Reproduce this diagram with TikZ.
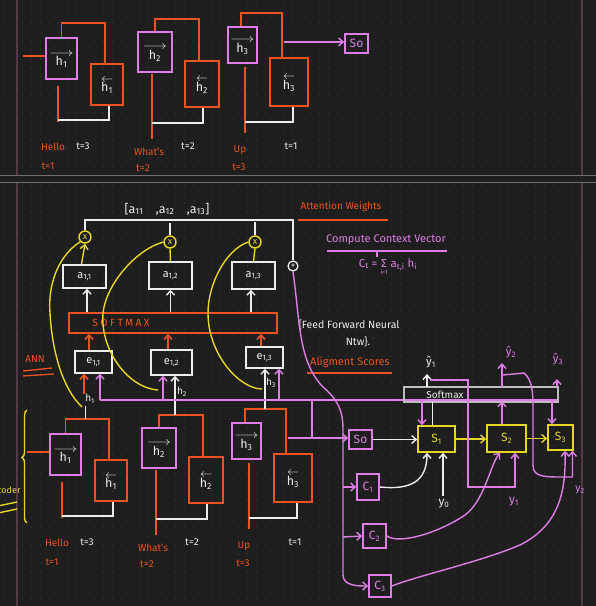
\documentclass[tikz,border=0pt]{standalone}
\usepackage{fontspec}
\usepackage{graphicx}
\setmainfont{Fira Sans}
\usetikzlibrary{calc,decorations.pathreplacing,arrows.meta}
\definecolor{bgcol}{HTML}{1E1E1E}
\definecolor{dotcol}{HTML}{2E2E2E}
\definecolor{ocol}{HTML}{EC5320}
\definecolor{pcol}{HTML}{DE7EE6}
\definecolor{ycol}{HTML}{E8D624}
\definecolor{wcol}{HTML}{EDEDED}
\definecolor{gcol}{HTML}{BDBDBD}
\definecolor{sepcol}{HTML}{6E6E6E}
\definecolor{margcol}{HTML}{553848}
\newcommand{\fw}[1]{\begin{tabular}{@{}c@{}}\scalebox{1.25}[1]{$\longrightarrow$}\\[-4pt]h\textsubscript{#1}\end{tabular}}
\newcommand{\bw}[1]{\begin{tabular}{@{}c@{}}$\leftarrow$\\[-4pt]h\textsubscript{#1}\end{tabular}}
\tikzset{
  x=1pt, y=-1pt,
  every node/.style={font=\fontsize{10}{11}\selectfont, text=wcol},
  tip/.style={-{Straight Barb[length=4.5pt,width=8pt]}},
  fbox/.style={draw=pcol, line width=1.6, inner sep=0, font=\fontsize{12.5}{13}\selectfont},
  bbox/.style={draw=ocol, line width=1.6, inner sep=0, font=\fontsize{12.5}{13}\selectfont},
  wbox/.style={draw=wcol, line width=1.4, inner sep=0, font=\fontsize{11}{12}\selectfont},
  ybox/.style={draw=ycol, line width=1.6, inner sep=0, text=ycol, font=\fontsize{12}{13}\selectfont},
  pbox/.style={draw=pcol, line width=1.6, inner sep=0, text=pcol, font=\fontsize{12}{13}\selectfont},
  oline/.style={draw=ocol, line width=1.6},
  wline/.style={draw=wcol, line width=1.4},
  pline/.style={draw=pcol, line width=1.4},
  yline/.style={draw=ycol, line width=1.4},
  oarr/.style={oline, tip},
  warr/.style={wline, tip},
  parr/.style={pline, tip},
  yarr/.style={yline, tip},
  olab/.style={text=ocol, font=\fontsize{10}{11}\selectfont},
  wlab/.style={text=wcol, font=\fontsize{10}{11}\selectfont},
  xcirc/.style={circle, draw=ycol, line width=1.4, minimum size=12, inner sep=0, text=ycol, font=\fontsize{9}{9}\selectfont},
}
\newcommand{\encoder}[1]{%
  \node[fbox, minimum width=31, minimum height=41] (#1h1f) at (61.5,58.5) {\fw{1}};
  \node[bbox, minimum width=32, minimum height=41] (#1h1b) at (107,84.5) {\bw{1}};
  \node[fbox, minimum width=34, minimum height=40] (#1h2f) at (155,52) {\fw{2}};
  \node[bbox, minimum width=34, minimum height=46] (#1h2b) at (202,84) {\bw{2}};
  \node[fbox, minimum width=29, minimum height=36] (#1h3f) at (242.5,45) {\fw{3}};
  \node[bbox, minimum width=38, minimum height=48] (#1h3b) at (289,82) {\bw{3}};
  \node[pbox, minimum width=23, minimum height=19] (#1s0) at (356.5,43.5) {So};
  \coordinate (#1in) at (23,56);
  \draw[oline] (#1in) -- (#1in -| #1h1f.west);
  \draw[oline] (#1h1f.north) -- ++(0,-14) coordinate (#1c1) -| ($(#1h1b.north)+(-2,0)$);
  \draw[oline] (#1h2f.north) -- ++(0,-12) coordinate (#1c2) -| ($(#1h2b.north)+(-3,0)$);
  \draw[oline] ($(#1h3f.north)+(-1.5,0)$) -- ++(0,-13) coordinate (#1c3) -| ($(#1h3b.north)+(-7,0)$);
  \coordinate (#1d1) at (58,86);  \coordinate (#1e1) at (58,122);  \coordinate (#1w1) at (58,120);
  \coordinate (#1d2) at (152,74); \coordinate (#1e2) at (152,139); \coordinate (#1w2) at (152,123);
  \coordinate (#1d3) at (245,67); \coordinate (#1e3) at (245,133); \coordinate (#1w3) at (245,122);
  \draw[oline] (#1d1) -- (#1e1);
  \draw[oline] (#1d2) -- (#1e2);
  \draw[oline] (#1d3) -- (#1e3);
  \draw[wline] (#1w1) -| ($(#1h1b.south)+(2,0)$);
  \draw[wline] (#1w2) -| ($(#1h2b.south)+(1,0)$);
  \draw[wline] (#1w3) -| ($(#1h3b.south)+(4,0)$);
  \node[olab] (#1hello) at (53,147) {Hello};
  \node[wlab] (#1ta) at (83,146) {t=3};
  \node[olab] (#1tb) at (48,166) {t=1};
  \node[olab] (#1whats) at (149,152) {What's};
  \node[olab] (#1tc) at (143,168) {t=2};
  \node[wlab] (#1td) at (188,146) {t=2};
  \node[olab] (#1up) at (240,150) {Up};
  \node[olab] (#1te) at (239,167) {t=3};
  \node[wlab] (#1tf) at (291,146) {t=1};
  \coordinate (#1p) at (284,42);
  \draw[parr] (#1p) -- (#1p -| #1s0.west);
}
\begin{document}
\begin{tikzpicture}
\useasboundingbox (0,0) rectangle (596,606);
\fill[bgcol] (0,0) rectangle (596,606);
\foreach \yy in {5,14,...,606} {
  \draw[dotcol, line width=1.4, dash pattern=on 1.4pt off 7.6pt] (4,\yy) -- (596,\yy);
}
% margins and separator
\draw[margcol, line width=1.3] (17,0) -- (17,175);
\draw[margcol, line width=1.3] (17,183) -- (17,606);
\draw[margcol, line width=2] (582,0) -- (582,175);
\draw[margcol, line width=2] (582,183) -- (582,606);
\draw[sepcol, line width=1.3] (0,175.5) -- (596,175.5);
\draw[sepcol, line width=1.3] (0,182.5) -- (596,182.5);

% top encoder
\begin{scope}
\encoder{t}
\end{scope}
% bottom encoder
\begin{scope}[shift={(4,396)}]
\encoder{b}
\end{scope}

% encoder brace
\draw[ycol, line width=1.4, decorate, decoration={brace, amplitude=5pt, aspect=0.58}] (27,523) -- (27,410);
\node[text=ycol, anchor=east, font=\fontsize{9}{10}\selectfont] (enc) at (24,490) {Encoder};
\draw[ycol, line width=1.4] (-2,506) -- (17,502);
\draw[ycol, line width=1.4] (-2,513) -- (17,509);

% attention part
\node[font=\fontsize{12.5}{13}\selectfont] (vec) at (167,209) {[a\textsubscript{11}\quad ,a\textsubscript{12}\quad ,a\textsubscript{13}]};
\node[xcirc] (x1) at (85,237) {x};
\node[xcirc] (x2) at (170,242) {x};
\node[xcirc] (x3) at (255,242) {x};
\node[circle, draw=wcol, line width=1.3, minimum size=10, inner sep=0, font=\fontsize{9}{9}\selectfont] (plus) at (293,266) {+};
\coordinate (tl) at (0,220);
\draw[wline] (x1.north) -- (x1.north |- tl) -| (plus.north);
\draw[wline] (x2.north) -- ++(0,-12);
\draw[wline] (x3.north) -- ++(0,-13);

\node[wbox, minimum width=43, minimum height=23] (a11) at (84.5,276.5) {a\textsubscript{1,1}};
\node[wbox, minimum width=43, minimum height=27] (a12) at (170.5,275.5) {a\textsubscript{1,2}};
\node[wbox, minimum width=43, minimum height=27] (a13) at (253.5,275.5) {a\textsubscript{1,3}};
\draw[yarr] ($(a11.north)+(-3,0)$) -- (x1.south);
\draw[yline] (a12.north) -- (x2.south);
\draw[yline] (a13.north) -- (x3.south);

\node[draw=ocol, line width=1.6, minimum width=208, minimum height=20, inner sep=0] (sm) at (173,323) {};
\node[text=ocol, font=\fontsize{10.5}{11}\selectfont\addfontfeatures{LetterSpace=22}] (smt) at (121,323) {SOFTMAX};
\coordinate (sa1) at ($(a11.south)+(2.5,0)$);
\coordinate (sa3) at ($(a13.south)+(-2.5,0)$);
\draw[warr] (sa1 |- sm.north) -- (sa1);
\draw[warr] (a12.south |- sm.north) -- (a12.south);
\draw[warr] (sa3 |- sm.north) -- (sa3);

\node[wbox, minimum width=37, minimum height=22] (e11) at (93.5,362) {e\textsubscript{1,1}};
\node[wbox, minimum width=41, minimum height=25] (e12) at (171.5,362.5) {e\textsubscript{1,2}};
\node[wbox, minimum width=37, minimum height=21] (e13) at (264.5,357.5) {e\textsubscript{1,3}};
\coordinate (se1) at ($(e11.north)+(-4.5,0)$);
\coordinate (se2) at ($(e12.north)+(-3.5,0)$);
\coordinate (se3) at ($(e13.north)+(-3.5,0)$);
\draw[oarr] (se1) -- (se1 |- sm.south);
\draw[oarr] (se2) -- (se2 |- sm.south);
\draw[oarr] (se3) -- (se3 |- sm.south);

\node[text=ocol, font=\fontsize{10}{11}\selectfont] (ann) at (35,359) {ANN};
\draw[ocol, line width=1.3] (23,371) -- (52,368);
\draw[ocol, line width=1.3] (23,376) -- (54,374);

% h lines from bottom encoder to e boxes
\draw[wline] ($(bc1)+(20,0)$) -- ++(0,-13);
\node[wlab] (lh1) at (90,399) {h\textsubscript{1}};
\draw[oarr] ($(e11.south)+(-9.5,20)$) -- ($(e11.south)+(-9.5,0)$);
\coordinate (h2t) at ($(bc2)+(16,0)$);
\draw[warr] (h2t) -- (h2t |- e12.south);
\node[wlab] (lh2) at (182,392) {h\textsubscript{2}};
\coordinate (h3t) at ($(bc3)+(20,0)$);
\draw[warr] (h3t) -- (h3t |- e13.south);
\node[wlab] (lh3) at (271,383) {h\textsubscript{3}};

% yellow curves
\draw[yline] (x1.south west) .. controls (55,258) and (48,290) .. (50,313) .. controls (52,350) and (62,388) .. (82,407);
\draw[yline] (x2.west) .. controls (135,250) and (106,285) .. (103,313) .. controls (100,350) and (128,388) .. (158,390);
\draw[yline] (x3.west) .. controls (225,250) and (208,285) .. (208,313) .. controls (208,355) and (240,389) .. (262,389);

% pink broadcast line
\coordinate (pl) at (100,400);
\coordinate (pr) at (558,400);
\coordinate (pj) at (312,400);
\coordinate (pjb) at (312,438);
\coordinate (pe2) at (163,400);
\coordinate (pe3) at (279,400);
\coordinate (pd1) at (422,400);
\coordinate (pd3) at (552,400);
\draw[pline] (pl) -- (pr);
\draw[pline] (pjb) -- (pj);
\draw[parr] (pl) -- (pl |- e11.south);
\draw[parr] (pe2) -- (pe2 |- e12.south);
\draw[parr] (pe3) -- (pe3 |- e13.south);

% texts right
\node[text=ocol, font=\fontsize{10}{11}\selectfont] (attw) at (341,207) {Attention Weights};
\draw[ocol, line width=1.3] (298,220) -- (388,220);
\node[text=pcol, font=\fontsize{11}{12}\selectfont] (ccv) at (386,240) {Compute Context Vector};
\draw[pcol, line width=1.3] (327,251) -- (447,251);
\draw[pcol, line width=1.3] (377,251) -- (377,257);
\node[text=pcol, font=\fontsize{11.5}{12}\selectfont] (ct) at (388,268) {C\textsubscript{t} = \begin{tabular}[t]{@{}c@{}}Σ\\[-5pt]{\fontsize{6}{6}\selectfont i=1}\end{tabular} a\textsubscript{t,i} h\textsubscript{i}};
\node[font=\fontsize{10.5}{11}\selectfont] (ffn) at (349,325) {\{Feed Forward Neural};
\node[font=\fontsize{10.5}{11}\selectfont] (ntw) at (358,342) {Ntw\}.};
\node[text=ocol, font=\fontsize{11}{12}\selectfont] (als) at (350,362) {Aligment Scores};
\draw[ocol, line width=1.3] (307,373) -- (392,373);

% decoder
\node[ybox, minimum width=37, minimum height=26] (s1) at (436.5,439) {S\textsubscript{1}};
\node[ybox, minimum width=39, minimum height=27] (s2) at (506.5,438.5) {S\textsubscript{2}};
\node[ybox, minimum width=25, minimum height=25] (s3) at (560.5,437.5) {S\textsubscript{3}};
\node[pbox, minimum width=22, minimum height=26] (c1) at (368,487) {C\textsubscript{1}};
\node[pbox, minimum width=23, minimum height=24] (c2) at (374.5,536) {C\textsubscript{2}};
\node[pbox, minimum width=22, minimum height=22] (c3) at (380,586) {C\textsubscript{3}};

% context curve from plus
\draw[parr] (plus.south) .. controls (300,320) and (298,360) .. (322,386) .. controls (338,400) and (343,410) .. (343,430) -- (343,575) to[out=-90,in=180] (c3.west);
\coordinate (b1) at (343,487);
\coordinate (b2) at (343,537);
\draw[parr] (b1) -- (c1.west);
\draw[parr] (b2) -- (c2.west);

\draw[warr] (bs0.east) -- (bs0.east -| s1.west);
\draw[yarr] (s1.east) -- (s1.east -| s2.west);
\draw[yarr] (s2.east) -- (s2.east -| s3.west);

\node[draw=gcol, line width=1.4, minimum width=154, minimum height=15, inner sep=0] (dsm) at (481,394.5) {};
\node[font=\fontsize{10}{11}\selectfont] (dsmt) at (445,395) {Softmax};
\draw[parr] (pd1) -- (pd1 |- s1.north);
\draw[parr] (pd3) -- (pd3 |- s3.north);
\draw[wline] ($(s1.north)+(-4,0)$) -- ++(0,-24);
\draw[parr] ($(s2.north)+(-4.5,0)$) -- ++(0,-23);

\node[font=\fontsize{11.5}{12}\selectfont] (yh1) at (431,362) {ŷ\textsubscript{1}};
\node[text=pcol, font=\fontsize{11.5}{12}\selectfont] (yh2) at (511,352) {ŷ\textsubscript{2}};
\node[text=pcol, font=\fontsize{11.5}{12}\selectfont] (yh3) at (558,359) {ŷ\textsubscript{3}};
\coordinate (q1) at (427,387);
\coordinate (q2) at (502,387);
\coordinate (q3) at (557,387);
\draw[warr] (q1) -- ++(0,-13);
\draw[parr] (q2) -- ++(0,-24);
\draw[parr] (q3) -- ++(0,-8);

\coordinate (y1s) at (430,380);
\coordinate (y1e) at ($(s2.south)+(8.5,0)$);
\draw[parr] (y1s) -- (468,380) -- (468,487) -| (y1e);
\node[text=pcol, font=\fontsize{12}{13}\selectfont] (ly1) at (514,502) {y\textsubscript{1}};
\coordinate (y2s) at (503,375);
\coordinate (y2e) at ($(s3.south)+(12,0)$);
\draw[parr] (y2s) -- (524,373) .. controls (532,380) and (533,390) .. (533,410) -- (533,465) .. controls (533,478) and (545,477) .. (572.5,477) -- (y2e);
\node[text=pcol, font=\fontsize{10.5}{11}\selectfont] (ly2) at (580,490) {y\textsubscript{2}};

\node[font=\fontsize{12}{13}\selectfont] (y0) at (444,504) {y\textsubscript{0}};
\coordinate (s1b) at ($(s1.south)+(6.5,0)$);
\draw[warr] (y0.north -| s1b) -- (s1b);
\draw[warr] (c1.east) .. controls (410,490) and (427,482) .. ($(s1.south)+(-9.5,0)$);
\draw[parr] (c2.east) .. controls (400,545) and (440,532) .. (465,515) .. controls (485,500) and (490,465) .. ($(s2.south)+(-6.5,0)$);
\draw[parr] (c3.east) .. controls (420,575) and (480,562) .. (520,545) .. controls (560,525) and (566,490) .. ($(s3.south)+(4.5,0)$);
\end{tikzpicture}
\end{document}
